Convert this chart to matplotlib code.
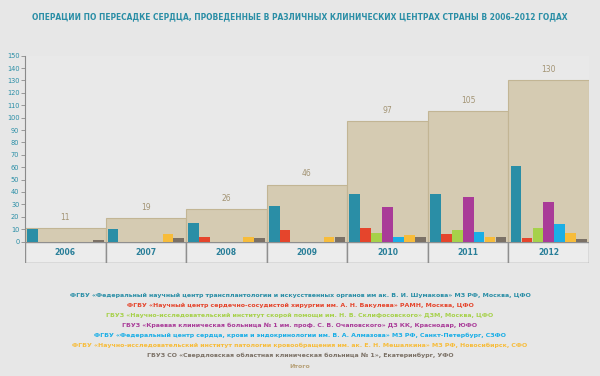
import matplotlib.pyplot as plt
from matplotlib import font_manager as fm
from matplotlib.patches import Rectangle

# Data
years = ['2006', '2007', '2008', '2009', '2010', '2011', '2012']
shumakov = [10, 10, 15, 29, 38, 38, 61]
bakulev = [0, 0, 4, 9, 11, 6, 3]
sklif = [0, 0, 0, 0, 7, 9, 11]
krasnodar = [0, 0, 0, 0, 28, 36, 32]
almazov = [0, 0, 0, 0, 4, 8, 14]
meshalkin = [0, 6, 4, 4, 5, 4, 7]
sverdlovsk = [1, 3, 3, 4, 4, 4, 2]
totals = [11, 19, 26, 46, 97, 105, 130]
yticks = list(range(0, 151, 10))

names = [
    'ФГБУ «Федеральный научный центр трансплантологии и искусственных органов им ак. В. И. Шумакова» МЗ РФ, Москва, ЦФО',
    'ФГБУ «Научный центр сердечно-сосудистой хирургии им. А. Н. Бакулева» РАМН, Москва, ЦФО',
    'ГБУЗ «Научно-исследовательский институт скорой помощи им. Н. В. Склифосовского» ДЗМ, Москва, ЦФО',
    'ГБУЗ «Краевая клиническая больница № 1 им. проф. С. В. Очаповского» ДЗ КК, Краснодар, ЮФО',
    'ФГБУ «Федеральный центр сердца, крови и эндокринологии им. В. А. Алмазова» МЗ РФ, Санкт-Петербург, СЗФО',
    'ФГБУ «Научно-исследовательский институт патологии кровообращения им. ак. Е. Н. Мешалкина» МЗ РФ, Новосибирск, СФО',
    'ГБУЗ СО «Свердловская областная клиническая больница № 1», Екатеринбург, УФО',
    'Итого',
]
title = 'ОПЕРАЦИИ ПО ПЕРЕСАДКЕ СЕРДЦА, ПРОВЕДЕННЫЕ В РАЗЛИЧНЫХ КЛИНИЧЕСКИХ ЦЕНТРАХ СТРАНЫ В 2006–2012 ГОДАХ'
series = [shumakov, bakulev, sklif, krasnodar, almazov, meshalkin, sverdlovsk]
colors = ['#2a8ea6', '#e5452c', '#a6d14a', '#a93b98', '#1aaee6', '#f7bc3a', '#7b7166']
total_color = '#d5cbb2'
name_colors = colors + ['#b8a27a']

# look for a narrow font among the installed ones
narrow = None
for f in fm.fontManager.ttflist:
    if 'Narrow' in f.name or 'Condensed' in f.name or 'ondensed' in str(f.stretch):
        narrow = f.name
        break
if narrow:
    plt.rcParams['font.family'] = [narrow, 'DejaVu Sans']
else:
    plt.rcParams['font.family'] = ['DejaVu Sans']

fig = plt.figure(figsize=(6, 3.76), dpi=100)
fig.patch.set_facecolor('#e7e7e7')

ax = fig.add_axes([25 / 600, 0.3577, 564 / 600, 0.4942])
ax.set_facecolor('#e9e9e9')
ax.set_xlim(0, len(years))
ax.set_ylim(0, 150)

# total bars behind
ax.bar([i + 0.5 for i in range(len(years))], totals, width=1.0,
       color=total_color, edgecolor='#c2b594', linewidth=0.8, zorder=1)
for i, t in enumerate(totals):
    ax.text(i + 0.5, t + 5, str(t), ha='center', va='bottom',
            fontsize=5.5, color='#a39474')

bw = 0.136
for k, (vals, c) in enumerate(zip(series, colors)):
    xs = [i + 0.025 + (k + 0.5) * bw for i in range(len(years))]
    ax.bar(xs, vals, width=bw * 0.97, color=c, zorder=2)

ax.set_xticks([])
ax.set_yticks(yticks)
ax.set_yticklabels([str(v) for v in yticks], fontsize=4.8, color='#2a8ea6')
ax.tick_params(axis='y', length=3, width=0.6, color='#8a8a8a', pad=1)
for s in ['top', 'right', 'bottom']:
    ax.spines[s].set_visible(False)
ax.spines['left'].set_color('#8a8a8a')
ax.spines['left'].set_linewidth(0.8)

# category band under the axis
band = fig.add_axes([25 / 600, 0.3005, 564 / 600, 0.0572])
band.set_xlim(0, len(years))
band.set_ylim(0, 1)
band.axis('off')
for i, y in enumerate(years):
    band.add_patch(Rectangle((i, 0), 1, 1, facecolor='#ececec',
                             edgecolor='#8f8f8f', linewidth=1.0))
    band.text(i + 0.5, 0.5, y, ha='center', va='center', fontsize=5.5,
              color='#2a7f99', fontweight='bold')

renderer = fig.canvas.get_renderer()

t = fig.text(0.5, 0.955, title, ha='center', va='center', fontsize=8,
             fontweight='bold', color='#2a8ea6')
w = t.get_window_extent(renderer).width
t.set_fontsize(8 * 536 / w)

line_y = [295, 305, 315, 325, 335, 345, 355, 366]
texts = []
for name, c, yp in zip(names, name_colors, line_y):
    texts.append(fig.text(0.5, 1 - yp / 376, name, ha='center', va='center',
                          fontsize=7, color=c, fontweight='bold'))
# legend lines a little wider than in the reference so they stay legible
w0 = texts[0].get_window_extent(renderer).width
size = min(7 * 470 / w0, 7.5)
for tx in texts:
    tx.set_fontsize(size)

fig.savefig('out.png', dpi=100, facecolor=fig.get_facecolor())
